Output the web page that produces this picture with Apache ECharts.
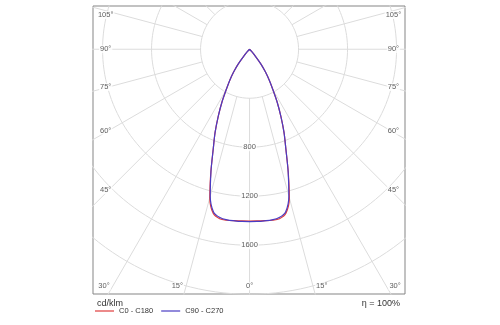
<!DOCTYPE html>
<html>
<head>
<meta charset="utf-8">
<script src="https://cdn.jsdelivr.net/npm/echarts@6/dist/echarts.min.js"></script>
<style>html,body{margin:0;padding:0;background:#fff}#c{width:500px;height:325px}</style>
</head>
<body>
<div id="c"></div>
<script>
// gamma angles (degrees from nadir) and intensities in cd/klm
const gammaDeg = [0, 2.5, 5, 7.5, 10, 12.5, 15, 17.5, 20, 22.5, 25, 27.5, 30, 32.5, 35, 37.5, 40, 42.5, 45];
const c0c180  = [1402, 1403, 1405, 1408, 1405, 1372, 1255, 1050, 867, 735, 605, 490, 380, 300, 225, 155, 75, 22, 0];
const c90c270 = [1407, 1407, 1406, 1405, 1395, 1360, 1240, 1048, 867, 735, 605, 490, 380, 300, 225, 155, 75, 22, 0];
const seriesNames = ['C0 - C180', 'C90 - C270'];
const radiusTicks = [400, 800, 1200, 1600, 2000, 2400];
const radiusLabels = [800, 1200, 1600];
const spokeStep = 15;
const sideAngleLabels = [45, 60, 75, 90, 105];
const bottomAngleLabels = [0, 15, 30];
const unitText = 'cd/klm';
const effText = 'η = 100%';

const D = Math.PI / 180;
const FONT = 'Liberation Sans';
const GRIDC = '#dcdcdc';

function curve(vals) {
  const pts = [];
  for (let i = gammaDeg.length - 1; i >= 0; i--) {
    const g = gammaDeg[i] * D;
    pts.push([-vals[i] * Math.sin(g), -vals[i] * Math.cos(g)]);
  }
  for (let i = 1; i < gammaDeg.length; i++) {
    const g = gammaDeg[i] * D;
    pts.push([vals[i] * Math.sin(g), -vals[i] * Math.cos(g)]);
  }
  return pts;
}

const series = [];
// spokes
for (let a = 0; a < 360; a += spokeStep) {
  const r = a * D;
  series.push({
    type: 'line', silent: true, symbol: 'none', clip: true, z: 1,
    lineStyle: { color: GRIDC, width: 1 },
    data: [[400 * Math.sin(r), -400 * Math.cos(r)], [4000 * Math.sin(r), -4000 * Math.cos(r)]]
  });
}
// circles
radiusTicks.forEach(rv => {
  const pts = [];
  for (let k = 0; k <= 360; k += 2) pts.push([rv * Math.sin(k * D), -rv * Math.cos(k * D)]);
  series.push({
    type: 'line', silent: true, symbol: 'none', clip: true, z: 1,
    lineStyle: { color: GRIDC, width: 1 }, data: pts
  });
});

// labels
const lbl = [];
const baseLabel = { show: true, position: 'inside', color: '#333', fontFamily: FONT, fontSize: 7.5,
  backgroundColor: '#fff', padding: [0, 1], verticalAlign: 'middle' };
radiusLabels.forEach(v => {
  lbl.push({ value: [0, -v], label: Object.assign({}, baseLabel, { formatter: String(v), align: 'center' }) });
});
sideAngleLabels.forEach(g => {
  let y = g === 90 ? 0 : -1150 / Math.tan(g * D);
  if (y > 280) y = 280;
  lbl.push({ value: [-1150, y], label: Object.assign({}, baseLabel, { formatter: g + '°', align: 'center', offset: [-3, 0] }) });
  lbl.push({ value: [1150, y], label: Object.assign({}, baseLabel, { formatter: g + '°', align: 'center', offset: [3, 0] }) });
});
bottomAngleLabels.forEach(g => {
  const y = -1935, x = 1935 * Math.tan(g * D);
  if (g === 0) {
    lbl.push({ value: [0, y], label: Object.assign({}, baseLabel, { formatter: g + '°', align: 'center' }) });
  } else {
    lbl.push({ value: [-x, y], label: Object.assign({}, baseLabel, { formatter: g + '°', align: 'right', offset: [-2, 0] }) });
    lbl.push({ value: [x, y], label: Object.assign({}, baseLabel, { formatter: g + '°', align: 'left', offset: [2, 0] }) });
  }
});
series.push({
  type: 'scatter', silent: true, symbolSize: 0.1, z: 5,
  itemStyle: { color: 'rgba(0,0,0,0)' }, data: lbl
});

// photometric curves
series.push({
  name: seriesNames[0], type: 'line', symbol: 'none', smooth: 0.3, clip: true, z: 3,
  lineStyle: { color: '#e03c3c', width: 1.2 }, itemStyle: { color: '#e03c3c' },
  data: curve(c0c180)
});
series.push({
  name: seriesNames[1], type: 'line', symbol: 'none', smooth: 0.3, clip: true, z: 4,
  lineStyle: { color: '#4a3cc4', width: 1.2 }, itemStyle: { color: '#4a3cc4' },
  data: curve(c90c270)
});

const chart = echarts.init(document.getElementById('c'), null, { renderer: 'canvas' });
chart.setOption({
  animation: false,
  backgroundColor: '#fff',
  grid: { left: 93, top: 6, width: 312, height: 288, show: true, borderColor: '#858585', borderWidth: 1, backgroundColor: '#fff' },
  xAxis: { type: 'value', min: -1278, max: 1269, show: false },
  yAxis: { type: 'value', min: -1998, max: 353, show: false },
  legend: {
    data: seriesNames.map(n => ({ name: n, icon: 'rect' })),
    left: 95, top: 307, itemWidth: 19, itemHeight: 1.2, itemGap: 8,
    textStyle: { fontFamily: FONT, fontSize: 7.5, color: '#333' }, padding: 0
  },
  graphic: [
    { type: 'text', left: 97, top: 299, style: { text: unitText, fontFamily: FONT, fontSize: 9, fill: '#333' } },
    { type: 'text', right: 100, top: 299, style: { text: effText, fontFamily: FONT, fontSize: 9, fill: '#333' } }
  ],
  series: series
});
</script>
</body>
</html>
